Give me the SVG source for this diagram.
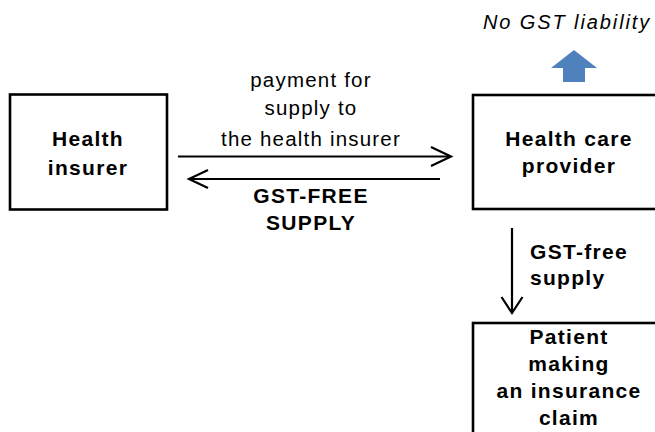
<svg xmlns="http://www.w3.org/2000/svg" width="655" height="432" viewBox="0 0 655 432">
<style>
.box{fill:#fff;stroke:#000;stroke-width:2.6}
.b{font-family:"Liberation Sans",Arial,sans-serif;font-weight:bold;font-size:21px;letter-spacing:1.3px;fill:#000}
.r{font-family:"Liberation Sans",Arial,sans-serif;font-size:20.5px;letter-spacing:1.2px;fill:#000}
.i{font-family:"Liberation Sans",Arial,sans-serif;font-style:italic;font-size:20px;letter-spacing:1.9px;fill:#000}
.c{text-anchor:middle}
.ln{fill:none;stroke:#000;stroke-width:2.2}
</style>
<rect width="655" height="432" fill="#fff"/>
<g id="health-insurer">
<rect class="box" x="10" y="94.5" width="157" height="115"/>
<text class="b c" x="88" y="146">Health</text>
<text class="b c" x="88" y="175">insurer</text>
</g>
<g id="health-care-provider">
<rect class="box" x="473" y="95" width="200" height="114"/>
<text class="b c" x="569" y="146">Health care</text>
<text class="b c" x="569" y="173">provider</text>
</g>
<g id="patient">
<rect class="box" x="473" y="323" width="200" height="120"/>
<text class="b c" x="569" y="344">Patient</text>
<text class="b c" x="569" y="371">making</text>
<text class="b c" x="569" y="398">an insurance</text>
<text class="b c" x="569" y="425">claim</text>
</g>
<g id="no-gst-liability">
<text class="i" x="483" y="29">No GST liability</text>
<polygon points="551,68 574,50 597,68 585,68 585,82 563,82 563,68" fill="#4f81bd"/>
</g>
<g id="connectors">
<line class="ln" x1="178" y1="156.5" x2="450" y2="156.5"/>
<polyline class="ln" points="431,147 451,156.5 431,166"/>
<line class="ln" x1="440" y1="179" x2="190" y2="179"/>
<polyline class="ln" points="208,170 189,179 208,188"/>
<line class="ln" x1="512" y1="228" x2="512" y2="312"/>
<polyline class="ln" points="501.5,297 512,313 522.5,297"/>
<text class="r c" x="311" y="87">payment for</text>
<text class="r c" x="311" y="115">supply to</text>
<text class="r c" x="311" y="146">the health insurer</text>
<text class="b c" x="311" y="203">GST-FREE</text>
<text class="b c" x="311" y="230">SUPPLY</text>
<text class="b" x="530" y="259">GST-free</text>
<text class="b" x="530" y="285">supply</text>
</g>
</svg>
